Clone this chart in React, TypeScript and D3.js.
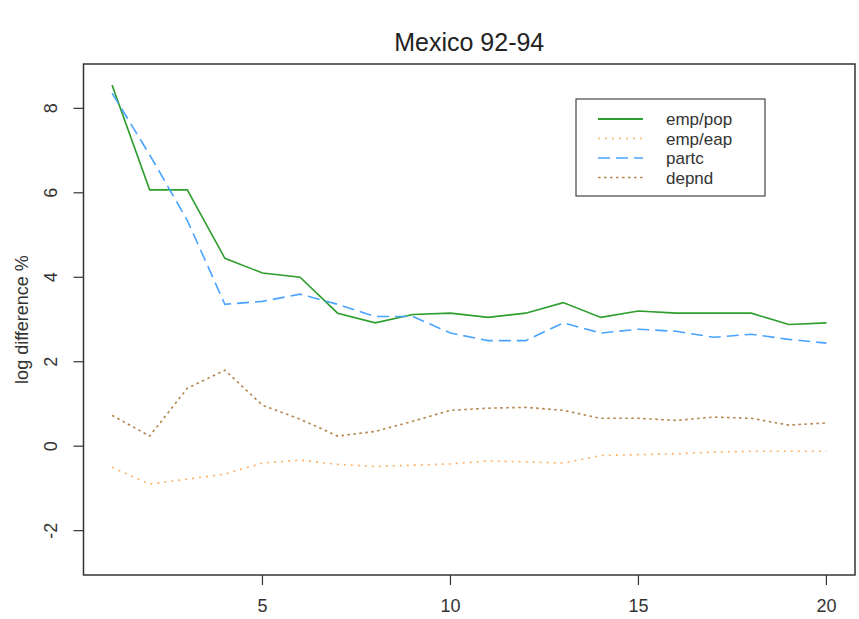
import React from "react";
import * as d3 from "d3";

const periods = [1, 2, 3, 4, 5, 6, 7, 8, 9, 10, 11, 12, 13, 14, 15, 16, 17, 18, 19, 20];
const empPop = [8.55, 6.07, 6.07, 4.45, 4.1, 4.0, 3.15, 2.92, 3.12, 3.15, 3.05, 3.15, 3.4, 3.05, 3.2, 3.15, 3.15, 3.15, 2.88, 2.92];
const empEap = [-0.5, -0.9, -0.78, -0.66, -0.4, -0.33, -0.43, -0.48, -0.45, -0.42, -0.35, -0.37, -0.4, -0.22, -0.2, -0.18, -0.14, -0.12, -0.12, -0.12];
const partc = [8.36, 6.9, 5.35, 3.36, 3.43, 3.6, 3.36, 3.07, 3.07, 2.68, 2.5, 2.5, 2.92, 2.68, 2.77, 2.72, 2.58, 2.65, 2.53, 2.44];
const depnd = [0.73, 0.24, 1.37, 1.8, 0.97, 0.64, 0.24, 0.35, 0.59, 0.85, 0.9, 0.92, 0.85, 0.66, 0.66, 0.61, 0.69, 0.66, 0.5, 0.55];
const seriesNames = ["emp/pop", "emp/eap", "partc", "depnd"];
const xTicks = [5, 10, 15, 20];
const yTicks = [-2, 0, 2, 4, 6, 8];
const title = "Mexico 92-94";
const yLabel = "log difference %";

const W = 859;
const H = 619;
const L = 83.5, R = 855, T = 64, B = 575;
const font = "'Liberation Sans', Arial, Helvetica, sans-serif";

const styles = [
  { color: "#2e9e2e", dash: "", width: 1.6 },
  { color: "#ffb062", dash: "2,5", width: 1.6 },
  { color: "#4aa3ff", dash: "12,6", width: 1.6 },
  { color: "#b48248", dash: "2.5,3.5", width: 1.6 },
];

export default function App() {
  const x = d3.scaleLinear().domain([0.24, 20.76]).range([L, R]);
  const y = d3.scaleLinear().domain([-3.05, 9.05]).range([B, T]);
  const data = [empPop, empEap, partc, depnd];
  const line = (vals: number[]) =>
    d3.line<number>().x((_, i) => x(periods[i])).y((d) => y(d))(vals) || "";

  const lgX = 576, lgY = 99, lgW = 189, lgH = 97;
  const rowY = [119, 138.5, 158, 177.5];

  return (
    <svg width={W} height={H} style={{ position: "absolute", left: 0, top: 0, background: "#fff" }} fontFamily={font}>
      <rect x={0} y={0} width={W} height={H} fill="#fff" />
      <text x={(L + R) / 2} y={51} textAnchor="middle" fontSize={25} fill="#222">{title}</text>
      {data.map((vals, i) => (
        <path key={i} d={line(vals)} fill="none" stroke={styles[i].color} strokeWidth={styles[i].width}
          strokeDasharray={styles[i].dash || undefined} />
      ))}
      <rect x={L} y={T} width={R - L} height={B - T} fill="none" stroke="#333" strokeWidth={1.5} />
      {xTicks.map((t) => (
        <g key={t}>
          <line x1={x(t)} x2={x(t)} y1={B} y2={B + 10} stroke="#333" strokeWidth={1.2} />
          <text x={x(t)} y={612} textAnchor="middle" fontSize={18} fill="#333">{t}</text>
        </g>
      ))}
      {yTicks.map((t) => (
        <g key={t}>
          <line x1={L - 10} x2={L} y1={y(t)} y2={y(t)} stroke="#333" strokeWidth={1.2} />
          <text transform={`translate(${57},${y(t)}) rotate(-90)`} textAnchor="middle" fontSize={18} fill="#333">{t}</text>
        </g>
      ))}
      <text transform={`translate(${28},${(T + B) / 2}) rotate(-90)`} textAnchor="middle" fontSize={18} fill="#333">{yLabel}</text>
      <rect x={lgX} y={lgY} width={lgW} height={lgH} fill="#fff" stroke="#444" strokeWidth={1.2} />
      {seriesNames.map((n, i) => (
        <g key={n}>
          <line x1={598} x2={643} y1={rowY[i]} y2={rowY[i]} stroke={styles[i].color} strokeWidth={i === 0 ? 2.2 : 1.6}
            strokeDasharray={styles[i].dash || undefined} />
          <text x={666} y={rowY[i] + 6} fontSize={17} fill="#333">{n}</text>
        </g>
      ))}
    </svg>
  );
}
